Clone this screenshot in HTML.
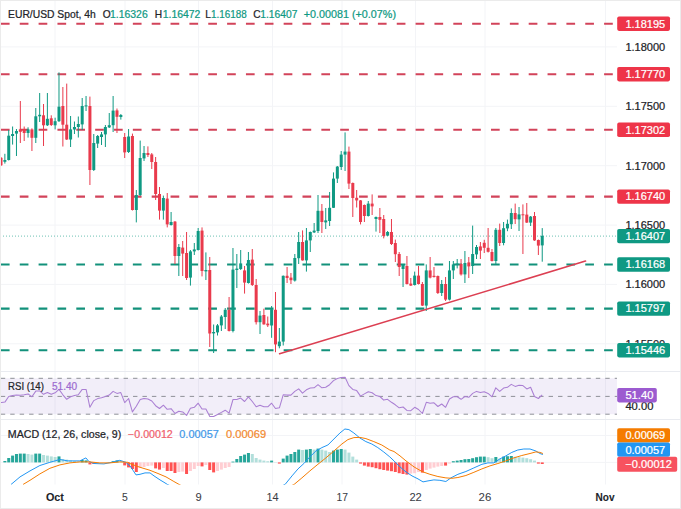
<!DOCTYPE html><html><head><meta charset="utf-8"><style>html,body{margin:0;padding:0;background:#fff}svg{display:block}</style></head><body><svg width="681" height="509" viewBox="0 0 681 509" font-family="'Liberation Sans', sans-serif">
<rect width="681" height="509" fill="#ffffff"/>
<line x1="55" y1="0" x2="55" y2="484.5" stroke="#f3f4f7" stroke-width="1"/>
<line x1="125" y1="0" x2="125" y2="484.5" stroke="#f3f4f7" stroke-width="1"/>
<line x1="198.5" y1="0" x2="198.5" y2="484.5" stroke="#f3f4f7" stroke-width="1"/>
<line x1="272.5" y1="0" x2="272.5" y2="484.5" stroke="#f3f4f7" stroke-width="1"/>
<line x1="342" y1="0" x2="342" y2="484.5" stroke="#f3f4f7" stroke-width="1"/>
<line x1="415.5" y1="0" x2="415.5" y2="484.5" stroke="#f3f4f7" stroke-width="1"/>
<line x1="485" y1="0" x2="485" y2="484.5" stroke="#f3f4f7" stroke-width="1"/>
<line x1="605.5" y1="0" x2="605.5" y2="484.5" stroke="#f3f4f7" stroke-width="1"/>
<line x1="0" y1="46.9" x2="617" y2="46.9" stroke="#f3f4f7" stroke-width="1"/>
<line x1="0" y1="106.3" x2="617" y2="106.3" stroke="#f3f4f7" stroke-width="1"/>
<line x1="0" y1="165.7" x2="617" y2="165.7" stroke="#f3f4f7" stroke-width="1"/>
<line x1="0" y1="225.1" x2="617" y2="225.1" stroke="#f3f4f7" stroke-width="1"/>
<line x1="0" y1="284.4" x2="617" y2="284.4" stroke="#f3f4f7" stroke-width="1"/>
<line x1="0" y1="343.8" x2="617" y2="343.8" stroke="#f3f4f7" stroke-width="1"/>
<line x1="0" y1="435.5" x2="617" y2="435.5" stroke="#f3f4f7" stroke-width="1"/>
<line x1="0" y1="462.4" x2="617" y2="462.4" stroke="#f3f4f7" stroke-width="1"/>
<line x1="0" y1="371.5" x2="681" y2="371.5" stroke="#e9ebf0" stroke-width="1"/>
<line x1="0" y1="419.5" x2="681" y2="419.5" stroke="#e9ebf0" stroke-width="1"/>
<rect x="0" y="378.3" width="617" height="35.9" fill="#7e57c2" fill-opacity="0.1"/>
<line x1="0" y1="378.3" x2="617" y2="378.3" stroke="#8e9097" stroke-width="1" stroke-dasharray="4.4 5.045" stroke-dashoffset="-0.8"/>
<line x1="0" y1="396.4" x2="617" y2="396.4" stroke="#8e9097" stroke-width="1" stroke-dasharray="4.4 5.045" stroke-dashoffset="-0.8"/>
<line x1="0" y1="414.2" x2="617" y2="414.2" stroke="#8e9097" stroke-width="1" stroke-dasharray="4.4 5.045" stroke-dashoffset="-0.8"/>
<line x1="0" y1="23.7" x2="617" y2="23.7" stroke="#d2435a" stroke-width="2.1" stroke-dasharray="8.7 10.15" stroke-dashoffset="-0.9"/>
<line x1="0" y1="74.2" x2="617" y2="74.2" stroke="#d2435a" stroke-width="2.1" stroke-dasharray="8.7 10.15" stroke-dashoffset="-0.9"/>
<line x1="0" y1="129.8" x2="617" y2="129.8" stroke="#d2435a" stroke-width="2.1" stroke-dasharray="8.7 10.15" stroke-dashoffset="-0.9"/>
<line x1="0" y1="196.6" x2="617" y2="196.6" stroke="#d2435a" stroke-width="2.1" stroke-dasharray="8.7 10.15" stroke-dashoffset="-0.9"/>
<line x1="0" y1="264.5" x2="617" y2="264.5" stroke="#12917b" stroke-width="2.1" stroke-dasharray="8.7 10.15" stroke-dashoffset="-0.9"/>
<line x1="0" y1="308.6" x2="617" y2="308.6" stroke="#12917b" stroke-width="2.1" stroke-dasharray="8.7 10.15" stroke-dashoffset="-0.9"/>
<line x1="0" y1="350.2" x2="617" y2="350.2" stroke="#12917b" stroke-width="2.1" stroke-dasharray="8.7 10.15" stroke-dashoffset="-0.9"/>
<line x1="0" y1="236.1" x2="617" y2="236.1" stroke="#0f9983" stroke-width="1" stroke-dasharray="1 2" opacity="0.6"/>
<line x1="1.00" y1="157.0" x2="1.00" y2="166.0" stroke="#e93a4c" stroke-width="1"/>
<rect x="-0.50" y="157.8" width="3" height="7.5" fill="#e93a4c"/>
<line x1="4.87" y1="153.8" x2="4.87" y2="163.6" stroke="#0f9983" stroke-width="1"/>
<rect x="3.37" y="160.0" width="3" height="1.8" fill="#0f9983"/>
<line x1="8.73" y1="130.0" x2="8.73" y2="160.5" stroke="#0f9983" stroke-width="1"/>
<rect x="7.23" y="135.7" width="3" height="24.3" fill="#0f9983"/>
<line x1="12.60" y1="126.5" x2="12.60" y2="144.6" stroke="#0f9983" stroke-width="1"/>
<rect x="11.10" y="134.0" width="3" height="2.0" fill="#0f9983"/>
<line x1="16.46" y1="129.0" x2="16.46" y2="156.0" stroke="#0f9983" stroke-width="1"/>
<rect x="14.96" y="131.0" width="3" height="2.6" fill="#0f9983"/>
<line x1="20.33" y1="101.0" x2="20.33" y2="143.0" stroke="#e93a4c" stroke-width="1"/>
<rect x="18.83" y="129.4" width="3" height="2.4" fill="#e93a4c"/>
<line x1="24.20" y1="126.5" x2="24.20" y2="141.0" stroke="#e93a4c" stroke-width="1"/>
<rect x="22.70" y="129.0" width="3" height="4.0" fill="#e93a4c"/>
<line x1="28.06" y1="127.3" x2="28.06" y2="137.6" stroke="#0f9983" stroke-width="1"/>
<rect x="26.56" y="129.4" width="3" height="3.6" fill="#0f9983"/>
<line x1="31.93" y1="128.3" x2="31.93" y2="151.0" stroke="#e93a4c" stroke-width="1"/>
<rect x="30.43" y="129.4" width="3" height="8.4" fill="#e93a4c"/>
<line x1="35.79" y1="108.0" x2="35.79" y2="143.0" stroke="#0f9983" stroke-width="1"/>
<rect x="34.29" y="116.3" width="3" height="21.5" fill="#0f9983"/>
<line x1="39.66" y1="93.0" x2="39.66" y2="122.0" stroke="#0f9983" stroke-width="1"/>
<rect x="38.16" y="114.8" width="3" height="1.5" fill="#0f9983"/>
<line x1="43.53" y1="104.0" x2="43.53" y2="146.0" stroke="#e93a4c" stroke-width="1"/>
<rect x="42.03" y="115.3" width="3" height="10.0" fill="#e93a4c"/>
<line x1="47.39" y1="93.0" x2="47.39" y2="126.0" stroke="#0f9983" stroke-width="1"/>
<rect x="45.89" y="118.8" width="3" height="6.5" fill="#0f9983"/>
<line x1="51.26" y1="115.3" x2="51.26" y2="126.0" stroke="#e93a4c" stroke-width="1"/>
<rect x="49.76" y="118.3" width="3" height="6.7" fill="#e93a4c"/>
<line x1="55.12" y1="117.7" x2="55.12" y2="129.4" stroke="#0f9983" stroke-width="1"/>
<rect x="53.62" y="121.2" width="3" height="4.1" fill="#0f9983"/>
<line x1="58.99" y1="72.4" x2="58.99" y2="122.0" stroke="#0f9983" stroke-width="1"/>
<rect x="57.49" y="106.7" width="3" height="14.5" fill="#0f9983"/>
<line x1="62.86" y1="87.0" x2="62.86" y2="146.5" stroke="#e93a4c" stroke-width="1"/>
<rect x="61.36" y="106.0" width="3" height="18.7" fill="#e93a4c"/>
<line x1="66.72" y1="83.6" x2="66.72" y2="140.0" stroke="#e93a4c" stroke-width="1"/>
<rect x="65.22" y="124.7" width="3" height="14.8" fill="#e93a4c"/>
<line x1="70.59" y1="116.0" x2="70.59" y2="147.0" stroke="#0f9983" stroke-width="1"/>
<rect x="69.09" y="129.4" width="3" height="10.1" fill="#0f9983"/>
<line x1="74.45" y1="121.5" x2="74.45" y2="134.0" stroke="#0f9983" stroke-width="1"/>
<rect x="72.95" y="127.0" width="3" height="2.5" fill="#0f9983"/>
<line x1="78.32" y1="116.5" x2="78.32" y2="137.5" stroke="#0f9983" stroke-width="1"/>
<rect x="76.82" y="124.0" width="3" height="3.0" fill="#0f9983"/>
<line x1="82.19" y1="98.0" x2="82.19" y2="130.0" stroke="#0f9983" stroke-width="1"/>
<rect x="80.69" y="106.0" width="3" height="18.4" fill="#0f9983"/>
<line x1="86.05" y1="96.0" x2="86.05" y2="111.0" stroke="#0f9983" stroke-width="1"/>
<rect x="84.55" y="105.4" width="3" height="1.0" fill="#0f9983"/>
<line x1="89.92" y1="96.6" x2="89.92" y2="185.0" stroke="#e93a4c" stroke-width="1"/>
<rect x="88.42" y="106.0" width="3" height="64.0" fill="#e93a4c"/>
<line x1="93.78" y1="134.0" x2="93.78" y2="171.0" stroke="#0f9983" stroke-width="1"/>
<rect x="92.28" y="143.0" width="3" height="27.0" fill="#0f9983"/>
<line x1="97.65" y1="135.0" x2="97.65" y2="148.0" stroke="#0f9983" stroke-width="1"/>
<rect x="96.15" y="136.0" width="3" height="7.6" fill="#0f9983"/>
<line x1="101.52" y1="132.0" x2="101.52" y2="145.0" stroke="#0f9983" stroke-width="1"/>
<rect x="100.02" y="134.4" width="3" height="2.6" fill="#0f9983"/>
<line x1="105.38" y1="125.0" x2="105.38" y2="147.0" stroke="#0f9983" stroke-width="1"/>
<rect x="103.88" y="127.0" width="3" height="7.4" fill="#0f9983"/>
<line x1="109.25" y1="113.0" x2="109.25" y2="128.0" stroke="#0f9983" stroke-width="1"/>
<rect x="107.75" y="125.2" width="3" height="2.2" fill="#0f9983"/>
<line x1="113.11" y1="96.0" x2="113.11" y2="132.0" stroke="#0f9983" stroke-width="1"/>
<rect x="111.61" y="110.6" width="3" height="14.6" fill="#0f9983"/>
<line x1="116.98" y1="108.5" x2="116.98" y2="133.0" stroke="#e93a4c" stroke-width="1"/>
<rect x="115.48" y="110.4" width="3" height="6.4" fill="#e93a4c"/>
<line x1="120.85" y1="114.0" x2="120.85" y2="119.6" stroke="#0f9983" stroke-width="1"/>
<rect x="119.35" y="115.0" width="3" height="2.0" fill="#0f9983"/>
<line x1="124.71" y1="133.0" x2="124.71" y2="158.0" stroke="#e93a4c" stroke-width="1"/>
<rect x="123.21" y="137.0" width="3" height="15.4" fill="#e93a4c"/>
<line x1="128.58" y1="129.0" x2="128.58" y2="153.0" stroke="#0f9983" stroke-width="1"/>
<rect x="127.08" y="136.5" width="3" height="15.5" fill="#0f9983"/>
<line x1="132.44" y1="133.6" x2="132.44" y2="210.5" stroke="#e93a4c" stroke-width="1"/>
<rect x="130.94" y="136.0" width="3" height="74.0" fill="#e93a4c"/>
<line x1="136.31" y1="190.0" x2="136.31" y2="222.4" stroke="#0f9983" stroke-width="1"/>
<rect x="134.81" y="195.0" width="3" height="15.0" fill="#0f9983"/>
<line x1="140.18" y1="140.6" x2="140.18" y2="196.0" stroke="#0f9983" stroke-width="1"/>
<rect x="138.68" y="158.0" width="3" height="37.0" fill="#0f9983"/>
<line x1="144.04" y1="146.0" x2="144.04" y2="161.0" stroke="#0f9983" stroke-width="1"/>
<rect x="142.54" y="153.0" width="3" height="5.4" fill="#0f9983"/>
<line x1="147.91" y1="146.4" x2="147.91" y2="157.0" stroke="#e93a4c" stroke-width="1"/>
<rect x="146.41" y="153.0" width="3" height="2.0" fill="#e93a4c"/>
<line x1="151.77" y1="153.0" x2="151.77" y2="169.0" stroke="#e93a4c" stroke-width="1"/>
<rect x="150.27" y="154.4" width="3" height="7.6" fill="#e93a4c"/>
<line x1="155.64" y1="157.0" x2="155.64" y2="200.0" stroke="#e93a4c" stroke-width="1"/>
<rect x="154.14" y="162.0" width="3" height="32.0" fill="#e93a4c"/>
<line x1="159.51" y1="187.0" x2="159.51" y2="219.6" stroke="#e93a4c" stroke-width="1"/>
<rect x="158.01" y="194.0" width="3" height="16.6" fill="#e93a4c"/>
<line x1="163.37" y1="195.6" x2="163.37" y2="219.6" stroke="#0f9983" stroke-width="1"/>
<rect x="161.87" y="198.0" width="3" height="12.6" fill="#0f9983"/>
<line x1="167.24" y1="193.0" x2="167.24" y2="227.4" stroke="#e93a4c" stroke-width="1"/>
<rect x="165.74" y="198.6" width="3" height="25.8" fill="#e93a4c"/>
<line x1="171.10" y1="212.0" x2="171.10" y2="225.6" stroke="#0f9983" stroke-width="1"/>
<rect x="169.60" y="222.0" width="3" height="3.0" fill="#0f9983"/>
<line x1="174.97" y1="221.0" x2="174.97" y2="264.0" stroke="#e93a4c" stroke-width="1"/>
<rect x="173.47" y="221.6" width="3" height="34.4" fill="#e93a4c"/>
<line x1="178.84" y1="244.0" x2="178.84" y2="276.0" stroke="#0f9983" stroke-width="1"/>
<rect x="177.34" y="247.0" width="3" height="9.0" fill="#0f9983"/>
<line x1="182.70" y1="241.0" x2="182.70" y2="276.0" stroke="#e93a4c" stroke-width="1"/>
<rect x="181.20" y="247.6" width="3" height="6.0" fill="#e93a4c"/>
<line x1="186.57" y1="232.0" x2="186.57" y2="280.0" stroke="#e93a4c" stroke-width="1"/>
<rect x="185.07" y="253.0" width="3" height="25.0" fill="#e93a4c"/>
<line x1="190.43" y1="250.0" x2="190.43" y2="285.6" stroke="#0f9983" stroke-width="1"/>
<rect x="188.93" y="251.4" width="3" height="26.2" fill="#0f9983"/>
<line x1="194.30" y1="243.0" x2="194.30" y2="255.0" stroke="#0f9983" stroke-width="1"/>
<rect x="192.80" y="249.4" width="3" height="2.0" fill="#0f9983"/>
<line x1="198.17" y1="228.0" x2="198.17" y2="250.5" stroke="#0f9983" stroke-width="1"/>
<rect x="196.67" y="231.0" width="3" height="19.0" fill="#0f9983"/>
<line x1="202.03" y1="227.4" x2="202.03" y2="276.4" stroke="#e93a4c" stroke-width="1"/>
<rect x="200.53" y="230.6" width="3" height="40.4" fill="#e93a4c"/>
<line x1="205.90" y1="252.4" x2="205.90" y2="280.0" stroke="#0f9983" stroke-width="1"/>
<rect x="204.40" y="270.0" width="3" height="1.4" fill="#0f9983"/>
<line x1="209.76" y1="257.0" x2="209.76" y2="347.0" stroke="#e93a4c" stroke-width="1"/>
<rect x="208.26" y="270.0" width="3" height="63.5" fill="#e93a4c"/>
<line x1="213.63" y1="324.5" x2="213.63" y2="353.0" stroke="#0f9983" stroke-width="1"/>
<rect x="212.13" y="332.0" width="3" height="1.4" fill="#0f9983"/>
<line x1="217.50" y1="324.0" x2="217.50" y2="335.5" stroke="#0f9983" stroke-width="1"/>
<rect x="216.00" y="325.4" width="3" height="7.0" fill="#0f9983"/>
<line x1="221.36" y1="315.0" x2="221.36" y2="331.0" stroke="#0f9983" stroke-width="1"/>
<rect x="219.86" y="316.5" width="3" height="8.9" fill="#0f9983"/>
<line x1="225.23" y1="308.0" x2="225.23" y2="329.0" stroke="#0f9983" stroke-width="1"/>
<rect x="223.73" y="309.8" width="3" height="7.2" fill="#0f9983"/>
<line x1="229.09" y1="297.0" x2="229.09" y2="331.5" stroke="#e93a4c" stroke-width="1"/>
<rect x="227.59" y="310.0" width="3" height="21.0" fill="#e93a4c"/>
<line x1="232.96" y1="248.0" x2="232.96" y2="332.4" stroke="#0f9983" stroke-width="1"/>
<rect x="231.46" y="269.6" width="3" height="61.4" fill="#0f9983"/>
<line x1="236.83" y1="254.0" x2="236.83" y2="288.0" stroke="#0f9983" stroke-width="1"/>
<rect x="235.33" y="268.6" width="3" height="1.4" fill="#0f9983"/>
<line x1="240.69" y1="250.0" x2="240.69" y2="270.0" stroke="#0f9983" stroke-width="1"/>
<rect x="239.19" y="263.4" width="3" height="5.6" fill="#0f9983"/>
<line x1="244.56" y1="266.0" x2="244.56" y2="293.6" stroke="#e93a4c" stroke-width="1"/>
<rect x="243.06" y="270.4" width="3" height="12.2" fill="#e93a4c"/>
<line x1="248.42" y1="252.0" x2="248.42" y2="283.6" stroke="#0f9983" stroke-width="1"/>
<rect x="246.92" y="260.0" width="3" height="23.0" fill="#0f9983"/>
<line x1="252.29" y1="249.0" x2="252.29" y2="286.0" stroke="#e93a4c" stroke-width="1"/>
<rect x="250.79" y="259.6" width="3" height="25.4" fill="#e93a4c"/>
<line x1="256.16" y1="279.0" x2="256.16" y2="324.5" stroke="#e93a4c" stroke-width="1"/>
<rect x="254.66" y="285.0" width="3" height="37.2" fill="#e93a4c"/>
<line x1="260.02" y1="311.0" x2="260.02" y2="334.0" stroke="#0f9983" stroke-width="1"/>
<rect x="258.52" y="315.6" width="3" height="6.6" fill="#0f9983"/>
<line x1="263.89" y1="308.7" x2="263.89" y2="324.6" stroke="#e93a4c" stroke-width="1"/>
<rect x="262.39" y="315.0" width="3" height="9.4" fill="#e93a4c"/>
<line x1="267.75" y1="316.5" x2="267.75" y2="327.0" stroke="#e93a4c" stroke-width="1"/>
<rect x="266.25" y="323.6" width="3" height="1.7" fill="#e93a4c"/>
<line x1="271.62" y1="306.0" x2="271.62" y2="337.8" stroke="#0f9983" stroke-width="1"/>
<rect x="270.12" y="309.3" width="3" height="16.2" fill="#0f9983"/>
<line x1="275.49" y1="292.0" x2="275.49" y2="352.2" stroke="#e93a4c" stroke-width="1"/>
<rect x="273.99" y="309.8" width="3" height="34.6" fill="#e93a4c"/>
<line x1="279.35" y1="328.0" x2="279.35" y2="348.3" stroke="#0f9983" stroke-width="1"/>
<rect x="277.85" y="341.6" width="3" height="4.6" fill="#0f9983"/>
<line x1="283.22" y1="275.5" x2="283.22" y2="345.5" stroke="#0f9983" stroke-width="1"/>
<rect x="281.72" y="275.8" width="3" height="65.8" fill="#0f9983"/>
<line x1="287.08" y1="267.0" x2="287.08" y2="283.0" stroke="#e93a4c" stroke-width="1"/>
<rect x="285.58" y="275.8" width="3" height="2.2" fill="#e93a4c"/>
<line x1="290.95" y1="273.0" x2="290.95" y2="284.0" stroke="#e93a4c" stroke-width="1"/>
<rect x="289.45" y="277.6" width="3" height="2.6" fill="#e93a4c"/>
<line x1="294.82" y1="254.0" x2="294.82" y2="281.6" stroke="#0f9983" stroke-width="1"/>
<rect x="293.32" y="258.0" width="3" height="22.6" fill="#0f9983"/>
<line x1="298.68" y1="232.0" x2="298.68" y2="264.0" stroke="#0f9983" stroke-width="1"/>
<rect x="297.18" y="242.0" width="3" height="16.2" fill="#0f9983"/>
<line x1="302.55" y1="230.4" x2="302.55" y2="260.6" stroke="#e93a4c" stroke-width="1"/>
<rect x="301.05" y="242.0" width="3" height="18.4" fill="#e93a4c"/>
<line x1="306.41" y1="228.0" x2="306.41" y2="271.6" stroke="#0f9983" stroke-width="1"/>
<rect x="304.91" y="240.4" width="3" height="20.0" fill="#0f9983"/>
<line x1="310.28" y1="231.5" x2="310.28" y2="252.0" stroke="#0f9983" stroke-width="1"/>
<rect x="308.78" y="232.0" width="3" height="8.4" fill="#0f9983"/>
<line x1="314.15" y1="223.0" x2="314.15" y2="233.0" stroke="#0f9983" stroke-width="1"/>
<rect x="312.65" y="230.6" width="3" height="1.8" fill="#0f9983"/>
<line x1="318.01" y1="195.0" x2="318.01" y2="233.0" stroke="#0f9983" stroke-width="1"/>
<rect x="316.51" y="210.8" width="3" height="20.2" fill="#0f9983"/>
<line x1="321.88" y1="204.0" x2="321.88" y2="233.0" stroke="#e93a4c" stroke-width="1"/>
<rect x="320.38" y="210.8" width="3" height="11.2" fill="#e93a4c"/>
<line x1="325.74" y1="208.0" x2="325.74" y2="229.0" stroke="#0f9983" stroke-width="1"/>
<rect x="324.24" y="220.4" width="3" height="2.0" fill="#0f9983"/>
<line x1="329.61" y1="192.0" x2="329.61" y2="226.0" stroke="#0f9983" stroke-width="1"/>
<rect x="328.11" y="207.8" width="3" height="13.2" fill="#0f9983"/>
<line x1="333.48" y1="172.4" x2="333.48" y2="208.0" stroke="#0f9983" stroke-width="1"/>
<rect x="331.98" y="178.6" width="3" height="29.2" fill="#0f9983"/>
<line x1="337.34" y1="166.0" x2="337.34" y2="183.0" stroke="#0f9983" stroke-width="1"/>
<rect x="335.84" y="166.6" width="3" height="12.0" fill="#0f9983"/>
<line x1="341.21" y1="151.0" x2="341.21" y2="170.0" stroke="#0f9983" stroke-width="1"/>
<rect x="339.71" y="154.6" width="3" height="12.4" fill="#0f9983"/>
<line x1="345.07" y1="132.4" x2="345.07" y2="171.0" stroke="#0f9983" stroke-width="1"/>
<rect x="343.57" y="151.6" width="3" height="3.0" fill="#0f9983"/>
<line x1="348.94" y1="146.6" x2="348.94" y2="189.0" stroke="#e93a4c" stroke-width="1"/>
<rect x="347.44" y="151.6" width="3" height="32.0" fill="#e93a4c"/>
<line x1="352.81" y1="182.5" x2="352.81" y2="217.0" stroke="#e93a4c" stroke-width="1"/>
<rect x="351.31" y="183.0" width="3" height="15.0" fill="#e93a4c"/>
<line x1="356.67" y1="190.0" x2="356.67" y2="207.5" stroke="#e93a4c" stroke-width="1"/>
<rect x="355.17" y="197.8" width="3" height="2.6" fill="#e93a4c"/>
<line x1="360.54" y1="200.0" x2="360.54" y2="224.4" stroke="#e93a4c" stroke-width="1"/>
<rect x="359.04" y="200.4" width="3" height="21.6" fill="#e93a4c"/>
<line x1="364.40" y1="204.5" x2="364.40" y2="222.0" stroke="#e93a4c" stroke-width="1"/>
<rect x="362.90" y="205.0" width="3" height="11.0" fill="#e93a4c"/>
<line x1="368.27" y1="201.0" x2="368.27" y2="216.5" stroke="#0f9983" stroke-width="1"/>
<rect x="366.77" y="203.6" width="3" height="12.4" fill="#0f9983"/>
<line x1="372.14" y1="194.4" x2="372.14" y2="215.0" stroke="#e93a4c" stroke-width="1"/>
<rect x="370.64" y="203.6" width="3" height="2.8" fill="#e93a4c"/>
<line x1="376.00" y1="216.5" x2="376.00" y2="231.6" stroke="#0f9983" stroke-width="1"/>
<rect x="374.50" y="217.0" width="3" height="2.0" fill="#0f9983"/>
<line x1="379.87" y1="208.0" x2="379.87" y2="233.0" stroke="#e93a4c" stroke-width="1"/>
<rect x="378.37" y="217.0" width="3" height="2.8" fill="#e93a4c"/>
<line x1="383.73" y1="215.0" x2="383.73" y2="238.4" stroke="#e93a4c" stroke-width="1"/>
<rect x="382.23" y="219.0" width="3" height="17.0" fill="#e93a4c"/>
<line x1="387.60" y1="231.0" x2="387.60" y2="236.0" stroke="#0f9983" stroke-width="1"/>
<rect x="386.10" y="232.0" width="3" height="3.6" fill="#0f9983"/>
<line x1="391.47" y1="219.0" x2="391.47" y2="245.0" stroke="#e93a4c" stroke-width="1"/>
<rect x="389.97" y="232.0" width="3" height="12.0" fill="#e93a4c"/>
<line x1="395.33" y1="239.6" x2="395.33" y2="262.0" stroke="#e93a4c" stroke-width="1"/>
<rect x="393.83" y="243.0" width="3" height="11.2" fill="#e93a4c"/>
<line x1="399.20" y1="252.0" x2="399.20" y2="276.0" stroke="#e93a4c" stroke-width="1"/>
<rect x="397.70" y="254.0" width="3" height="13.0" fill="#e93a4c"/>
<line x1="403.06" y1="264.0" x2="403.06" y2="287.0" stroke="#0f9983" stroke-width="1"/>
<rect x="401.56" y="264.5" width="3" height="4.5" fill="#0f9983"/>
<line x1="406.93" y1="256.0" x2="406.93" y2="284.5" stroke="#e93a4c" stroke-width="1"/>
<rect x="405.43" y="266.0" width="3" height="18.0" fill="#e93a4c"/>
<line x1="410.80" y1="278.0" x2="410.80" y2="286.0" stroke="#e93a4c" stroke-width="1"/>
<rect x="409.30" y="283.6" width="3" height="2.0" fill="#e93a4c"/>
<line x1="414.66" y1="271.6" x2="414.66" y2="285.5" stroke="#0f9983" stroke-width="1"/>
<rect x="413.16" y="275.6" width="3" height="9.4" fill="#0f9983"/>
<line x1="418.53" y1="266.0" x2="418.53" y2="284.5" stroke="#e93a4c" stroke-width="1"/>
<rect x="417.03" y="275.6" width="3" height="8.4" fill="#e93a4c"/>
<line x1="422.39" y1="282.0" x2="422.39" y2="306.0" stroke="#e93a4c" stroke-width="1"/>
<rect x="420.89" y="284.0" width="3" height="21.6" fill="#e93a4c"/>
<line x1="426.26" y1="264.4" x2="426.26" y2="311.0" stroke="#0f9983" stroke-width="1"/>
<rect x="424.76" y="270.4" width="3" height="35.2" fill="#0f9983"/>
<line x1="430.13" y1="257.0" x2="430.13" y2="278.4" stroke="#e93a4c" stroke-width="1"/>
<rect x="428.63" y="270.4" width="3" height="7.2" fill="#e93a4c"/>
<line x1="433.99" y1="267.0" x2="433.99" y2="277.6" stroke="#e93a4c" stroke-width="1"/>
<rect x="432.49" y="275.8" width="3" height="1.2" fill="#e93a4c"/>
<line x1="437.86" y1="275.5" x2="437.86" y2="294.0" stroke="#e93a4c" stroke-width="1"/>
<rect x="436.36" y="276.0" width="3" height="17.0" fill="#e93a4c"/>
<line x1="441.72" y1="280.0" x2="441.72" y2="296.0" stroke="#0f9983" stroke-width="1"/>
<rect x="440.22" y="284.0" width="3" height="9.0" fill="#0f9983"/>
<line x1="445.59" y1="277.0" x2="445.59" y2="301.0" stroke="#e93a4c" stroke-width="1"/>
<rect x="444.09" y="284.0" width="3" height="15.6" fill="#e93a4c"/>
<line x1="449.46" y1="261.0" x2="449.46" y2="300.4" stroke="#0f9983" stroke-width="1"/>
<rect x="447.96" y="270.4" width="3" height="29.2" fill="#0f9983"/>
<line x1="453.32" y1="261.0" x2="453.32" y2="279.0" stroke="#0f9983" stroke-width="1"/>
<rect x="451.82" y="264.4" width="3" height="6.0" fill="#0f9983"/>
<line x1="457.19" y1="259.0" x2="457.19" y2="268.4" stroke="#0f9983" stroke-width="1"/>
<rect x="455.69" y="263.6" width="3" height="1.4" fill="#0f9983"/>
<line x1="461.05" y1="259.0" x2="461.05" y2="275.6" stroke="#e93a4c" stroke-width="1"/>
<rect x="459.55" y="264.0" width="3" height="10.4" fill="#e93a4c"/>
<line x1="464.92" y1="251.0" x2="464.92" y2="283.0" stroke="#0f9983" stroke-width="1"/>
<rect x="463.42" y="263.0" width="3" height="11.4" fill="#0f9983"/>
<line x1="468.79" y1="257.0" x2="468.79" y2="278.0" stroke="#e93a4c" stroke-width="1"/>
<rect x="467.29" y="262.4" width="3" height="4.0" fill="#e93a4c"/>
<line x1="472.65" y1="225.6" x2="472.65" y2="274.0" stroke="#0f9983" stroke-width="1"/>
<rect x="471.15" y="254.0" width="3" height="12.0" fill="#0f9983"/>
<line x1="476.52" y1="245.0" x2="476.52" y2="259.0" stroke="#0f9983" stroke-width="1"/>
<rect x="475.02" y="247.0" width="3" height="7.4" fill="#0f9983"/>
<line x1="480.38" y1="242.0" x2="480.38" y2="259.0" stroke="#e93a4c" stroke-width="1"/>
<rect x="478.88" y="246.4" width="3" height="4.2" fill="#e93a4c"/>
<line x1="484.25" y1="239.8" x2="484.25" y2="253.0" stroke="#e93a4c" stroke-width="1"/>
<rect x="482.75" y="242.8" width="3" height="5.0" fill="#e93a4c"/>
<line x1="488.12" y1="228.0" x2="488.12" y2="252.5" stroke="#e93a4c" stroke-width="1"/>
<rect x="486.62" y="247.8" width="3" height="4.0" fill="#e93a4c"/>
<line x1="491.98" y1="249.0" x2="491.98" y2="261.5" stroke="#e93a4c" stroke-width="1"/>
<rect x="490.48" y="252.0" width="3" height="9.0" fill="#e93a4c"/>
<line x1="495.85" y1="228.0" x2="495.85" y2="264.0" stroke="#0f9983" stroke-width="1"/>
<rect x="494.35" y="229.8" width="3" height="31.2" fill="#0f9983"/>
<line x1="499.71" y1="223.6" x2="499.71" y2="246.0" stroke="#e93a4c" stroke-width="1"/>
<rect x="498.21" y="229.8" width="3" height="13.2" fill="#e93a4c"/>
<line x1="503.58" y1="222.0" x2="503.58" y2="245.3" stroke="#0f9983" stroke-width="1"/>
<rect x="502.08" y="228.2" width="3" height="14.8" fill="#0f9983"/>
<line x1="507.45" y1="219.6" x2="507.45" y2="231.2" stroke="#0f9983" stroke-width="1"/>
<rect x="505.95" y="223.8" width="3" height="4.6" fill="#0f9983"/>
<line x1="511.31" y1="208.4" x2="511.31" y2="229.0" stroke="#0f9983" stroke-width="1"/>
<rect x="509.81" y="213.0" width="3" height="11.2" fill="#0f9983"/>
<line x1="515.18" y1="203.6" x2="515.18" y2="224.0" stroke="#e93a4c" stroke-width="1"/>
<rect x="513.68" y="213.0" width="3" height="6.2" fill="#e93a4c"/>
<line x1="519.04" y1="207.0" x2="519.04" y2="231.0" stroke="#0f9983" stroke-width="1"/>
<rect x="517.54" y="214.4" width="3" height="5.0" fill="#0f9983"/>
<line x1="522.91" y1="204.4" x2="522.91" y2="254.0" stroke="#e93a4c" stroke-width="1"/>
<rect x="521.41" y="214.3" width="3" height="1.0" fill="#e93a4c"/>
<line x1="526.78" y1="203.0" x2="526.78" y2="223.0" stroke="#e93a4c" stroke-width="1"/>
<rect x="525.28" y="214.6" width="3" height="8.0" fill="#e93a4c"/>
<line x1="530.64" y1="216.0" x2="530.64" y2="226.0" stroke="#0f9983" stroke-width="1"/>
<rect x="529.14" y="216.6" width="3" height="6.0" fill="#0f9983"/>
<line x1="534.51" y1="212.0" x2="534.51" y2="240.8" stroke="#e93a4c" stroke-width="1"/>
<rect x="533.01" y="216.0" width="3" height="24.4" fill="#e93a4c"/>
<line x1="538.37" y1="239.5" x2="538.37" y2="255.0" stroke="#e93a4c" stroke-width="1"/>
<rect x="536.87" y="240.0" width="3" height="5.6" fill="#e93a4c"/>
<line x1="542.24" y1="228.1" x2="542.24" y2="261.7" stroke="#0f9983" stroke-width="1"/>
<rect x="540.74" y="235.8" width="3" height="9.6" fill="#0f9983"/>
<line x1="279.6" y1="353.8" x2="585.5" y2="261.1" stroke="#dc3f52" stroke-width="1.6" stroke-linecap="round"/>
<polyline fill="none" stroke="#aa7fd3" stroke-width="1.05" stroke-linejoin="round" points="0.0,402.8 4.9,402.1 8.7,396.5 12.6,395.6 16.5,395.1 20.3,395.3 24.2,394.8 28.1,393.9 31.9,396.8 35.8,391.1 39.7,390.9 43.5,394.3 47.4,392.6 51.3,394.3 55.1,392.8 59.0,389.4 62.9,394.8 66.7,399.3 70.6,396.8 74.5,395.6 78.3,394.8 82.2,389.4 86.1,389.4 89.9,407.3 93.8,400.6 97.7,398.6 101.5,397.8 105.4,396.5 109.2,395.1 113.1,391.4 117.0,393.4 120.8,392.6 124.7,402.6 128.6,398.5 132.4,411.9 136.3,406.2 140.2,399.5 144.0,398.5 147.9,399.0 151.8,401.0 155.6,405.7 159.5,408.5 163.4,405.2 167.2,409.3 171.1,408.7 175.0,413.5 178.8,411.2 182.7,411.9 186.6,415.4 190.4,408.2 194.3,407.3 198.2,403.2 202.0,409.0 205.9,409.0 209.8,416.5 213.6,416.5 217.5,414.5 221.4,412.4 225.2,410.2 229.1,413.2 233.0,399.5 236.8,399.5 240.7,398.1 244.6,401.5 248.4,396.8 252.3,401.5 256.2,406.8 260.0,405.2 263.9,406.8 267.8,406.8 271.6,403.2 275.5,408.5 279.4,407.8 283.2,394.8 287.1,395.1 290.9,395.1 294.8,391.4 298.7,388.9 302.5,393.1 306.4,389.8 310.3,388.1 314.1,387.8 318.0,384.7 321.9,387.8 325.7,387.3 329.6,384.7 333.5,380.6 337.3,378.5 341.2,377.5 345.1,377.2 348.9,385.6 352.8,389.4 356.7,390.6 360.5,396.1 364.4,393.9 368.3,391.8 372.1,392.8 376.0,395.6 379.9,396.5 383.7,400.1 387.6,399.3 391.5,402.3 395.3,404.8 399.2,407.8 403.1,407.0 406.9,410.4 410.8,410.7 414.7,407.3 418.5,409.5 422.4,413.5 426.3,402.3 430.1,403.2 434.0,402.8 437.9,406.5 441.7,404.0 445.6,407.3 449.5,399.0 453.3,396.8 457.2,396.8 461.1,399.3 464.9,396.5 468.8,397.3 472.7,393.4 476.5,391.4 480.4,392.6 484.2,391.8 488.1,393.4 492.0,396.8 495.8,387.8 499.7,391.4 503.6,388.1 507.4,387.3 511.3,384.4 515.2,386.4 519.0,385.2 522.9,385.6 526.8,388.9 530.6,387.3 534.5,396.5 538.4,398.5 542.2,394.8"/>
<rect x="3.37" y="461.0" width="3" height="1.4" fill="#26a69a"/>
<rect x="7.23" y="458.0" width="3" height="4.4" fill="#26a69a"/>
<rect x="11.10" y="455.6" width="3" height="6.8" fill="#26a69a"/>
<rect x="14.96" y="454.0" width="3" height="8.4" fill="#26a69a"/>
<rect x="18.83" y="453.6" width="3" height="8.8" fill="#26a69a"/>
<rect x="22.70" y="453.6" width="3" height="8.8" fill="#26a69a"/>
<rect x="26.56" y="454.0" width="3" height="8.4" fill="#b2dfdb"/>
<rect x="30.43" y="454.6" width="3" height="7.8" fill="#b2dfdb"/>
<rect x="34.29" y="453.6" width="3" height="8.8" fill="#26a69a"/>
<rect x="38.16" y="453.6" width="3" height="8.8" fill="#26a69a"/>
<rect x="42.03" y="455.0" width="3" height="7.4" fill="#b2dfdb"/>
<rect x="45.89" y="455.6" width="3" height="6.8" fill="#b2dfdb"/>
<rect x="49.76" y="456.4" width="3" height="6.0" fill="#b2dfdb"/>
<rect x="53.62" y="457.0" width="3" height="5.4" fill="#b2dfdb"/>
<rect x="57.49" y="456.4" width="3" height="6.0" fill="#26a69a"/>
<rect x="61.36" y="459.0" width="3" height="3.4" fill="#b2dfdb"/>
<rect x="65.22" y="459.6" width="3" height="2.8" fill="#b2dfdb"/>
<rect x="69.09" y="460.4" width="3" height="2.0" fill="#b2dfdb"/>
<rect x="72.95" y="461.0" width="3" height="1.4" fill="#b2dfdb"/>
<rect x="76.82" y="461.6" width="3" height="0.8" fill="#b2dfdb"/>
<rect x="80.69" y="460.0" width="3" height="2.4" fill="#26a69a"/>
<rect x="84.55" y="460.4" width="3" height="2.0" fill="#26a69a"/>
<rect x="88.42" y="462.4" width="3" height="2.0" fill="#ff5252"/>
<rect x="92.28" y="462.4" width="3" height="1.6" fill="#ff5252"/>
<rect x="96.15" y="462.4" width="3" height="0.6" fill="#ffcdd2"/>
<rect x="107.75" y="462.0" width="3" height="0.4" fill="#b2dfdb"/>
<rect x="111.61" y="461.2" width="3" height="1.2" fill="#26a69a"/>
<rect x="115.48" y="460.4" width="3" height="2.0" fill="#26a69a"/>
<rect x="119.35" y="460.8" width="3" height="1.6" fill="#b2dfdb"/>
<rect x="123.21" y="462.4" width="3" height="3.0" fill="#ff5252"/>
<rect x="127.08" y="462.4" width="3" height="5.0" fill="#ff5252"/>
<rect x="130.94" y="462.4" width="3" height="6.6" fill="#ff5252"/>
<rect x="134.81" y="462.4" width="3" height="9.6" fill="#ff5252"/>
<rect x="138.68" y="462.4" width="3" height="5.6" fill="#ffcdd2"/>
<rect x="142.54" y="462.4" width="3" height="4.6" fill="#ffcdd2"/>
<rect x="146.41" y="462.4" width="3" height="3.6" fill="#ffcdd2"/>
<rect x="150.27" y="462.4" width="3" height="3.2" fill="#ffcdd2"/>
<rect x="154.14" y="462.4" width="3" height="6.0" fill="#ff5252"/>
<rect x="158.01" y="462.4" width="3" height="7.2" fill="#ff5252"/>
<rect x="161.87" y="462.4" width="3" height="5.6" fill="#ffcdd2"/>
<rect x="165.74" y="462.4" width="3" height="8.6" fill="#ff5252"/>
<rect x="169.60" y="462.4" width="3" height="8.6" fill="#ff5252"/>
<rect x="173.47" y="462.4" width="3" height="10.6" fill="#ff5252"/>
<rect x="177.34" y="462.4" width="3" height="9.6" fill="#ffcdd2"/>
<rect x="181.20" y="462.4" width="3" height="9.2" fill="#ffcdd2"/>
<rect x="185.07" y="462.4" width="3" height="11.6" fill="#ff5252"/>
<rect x="188.93" y="462.4" width="3" height="8.6" fill="#ffcdd2"/>
<rect x="192.80" y="462.4" width="3" height="6.6" fill="#ffcdd2"/>
<rect x="196.67" y="462.4" width="3" height="3.6" fill="#ffcdd2"/>
<rect x="200.53" y="462.4" width="3" height="4.0" fill="#ff5252"/>
<rect x="204.40" y="462.4" width="3" height="2.6" fill="#ffcdd2"/>
<rect x="208.26" y="462.4" width="3" height="7.6" fill="#ff5252"/>
<rect x="212.13" y="462.4" width="3" height="10.0" fill="#ff5252"/>
<rect x="216.00" y="462.4" width="3" height="8.6" fill="#ffcdd2"/>
<rect x="219.86" y="462.4" width="3" height="7.2" fill="#ffcdd2"/>
<rect x="223.73" y="462.4" width="3" height="5.6" fill="#ffcdd2"/>
<rect x="227.59" y="462.4" width="3" height="4.6" fill="#ffcdd2"/>
<rect x="231.46" y="461.6" width="3" height="0.8" fill="#26a69a"/>
<rect x="235.33" y="459.0" width="3" height="3.4" fill="#26a69a"/>
<rect x="239.19" y="456.0" width="3" height="6.4" fill="#26a69a"/>
<rect x="243.06" y="454.6" width="3" height="7.8" fill="#26a69a"/>
<rect x="246.92" y="453.0" width="3" height="9.4" fill="#26a69a"/>
<rect x="250.79" y="454.0" width="3" height="8.4" fill="#b2dfdb"/>
<rect x="254.66" y="458.0" width="3" height="4.4" fill="#b2dfdb"/>
<rect x="258.52" y="459.6" width="3" height="2.8" fill="#b2dfdb"/>
<rect x="262.39" y="460.6" width="3" height="1.8" fill="#b2dfdb"/>
<rect x="266.25" y="461.2" width="3" height="1.2" fill="#b2dfdb"/>
<rect x="270.12" y="460.6" width="3" height="1.8" fill="#26a69a"/>
<rect x="273.99" y="462.1" width="3" height="0.3" fill="#b2dfdb"/>
<rect x="277.85" y="462.4" width="3" height="1.2" fill="#ff5252"/>
<rect x="281.72" y="458.6" width="3" height="3.8" fill="#26a69a"/>
<rect x="285.58" y="455.6" width="3" height="6.8" fill="#26a69a"/>
<rect x="289.45" y="454.0" width="3" height="8.4" fill="#26a69a"/>
<rect x="293.32" y="452.0" width="3" height="10.4" fill="#26a69a"/>
<rect x="297.18" y="449.6" width="3" height="12.8" fill="#26a69a"/>
<rect x="301.05" y="450.0" width="3" height="12.4" fill="#b2dfdb"/>
<rect x="304.91" y="449.6" width="3" height="12.8" fill="#26a69a"/>
<rect x="308.78" y="449.0" width="3" height="13.4" fill="#26a69a"/>
<rect x="312.65" y="449.6" width="3" height="12.8" fill="#b2dfdb"/>
<rect x="316.51" y="448.6" width="3" height="13.8" fill="#26a69a"/>
<rect x="320.38" y="449.6" width="3" height="12.8" fill="#b2dfdb"/>
<rect x="324.24" y="450.6" width="3" height="11.8" fill="#b2dfdb"/>
<rect x="328.11" y="452.0" width="3" height="10.4" fill="#b2dfdb"/>
<rect x="331.98" y="450.6" width="3" height="11.8" fill="#26a69a"/>
<rect x="335.84" y="449.6" width="3" height="12.8" fill="#26a69a"/>
<rect x="339.71" y="449.0" width="3" height="13.4" fill="#26a69a"/>
<rect x="343.57" y="449.6" width="3" height="12.8" fill="#b2dfdb"/>
<rect x="347.44" y="452.6" width="3" height="9.8" fill="#b2dfdb"/>
<rect x="351.31" y="456.6" width="3" height="5.8" fill="#b2dfdb"/>
<rect x="355.17" y="459.6" width="3" height="2.8" fill="#b2dfdb"/>
<rect x="359.04" y="462.4" width="3" height="1.2" fill="#ff5252"/>
<rect x="362.90" y="462.4" width="3" height="3.2" fill="#ff5252"/>
<rect x="366.77" y="462.4" width="3" height="4.2" fill="#ff5252"/>
<rect x="370.64" y="462.4" width="3" height="4.8" fill="#ff5252"/>
<rect x="374.50" y="462.4" width="3" height="5.8" fill="#ff5252"/>
<rect x="378.37" y="462.4" width="3" height="6.8" fill="#ff5252"/>
<rect x="382.23" y="462.4" width="3" height="7.6" fill="#ff5252"/>
<rect x="386.10" y="462.4" width="3" height="8.2" fill="#ff5252"/>
<rect x="389.97" y="462.4" width="3" height="8.8" fill="#ff5252"/>
<rect x="393.83" y="462.4" width="3" height="9.6" fill="#ff5252"/>
<rect x="397.70" y="462.4" width="3" height="10.8" fill="#ff5252"/>
<rect x="401.56" y="462.4" width="3" height="11.6" fill="#ff5252"/>
<rect x="405.43" y="462.4" width="3" height="12.2" fill="#ff5252"/>
<rect x="409.30" y="462.4" width="3" height="11.2" fill="#ffcdd2"/>
<rect x="413.16" y="462.4" width="3" height="10.8" fill="#ffcdd2"/>
<rect x="417.03" y="462.4" width="3" height="9.6" fill="#ffcdd2"/>
<rect x="420.89" y="462.4" width="3" height="10.2" fill="#ff5252"/>
<rect x="424.76" y="462.4" width="3" height="7.6" fill="#ffcdd2"/>
<rect x="428.63" y="462.4" width="3" height="6.2" fill="#ffcdd2"/>
<rect x="432.49" y="462.4" width="3" height="5.2" fill="#ffcdd2"/>
<rect x="436.36" y="462.4" width="3" height="4.2" fill="#ffcdd2"/>
<rect x="440.22" y="462.4" width="3" height="3.6" fill="#ffcdd2"/>
<rect x="444.09" y="462.4" width="3" height="3.2" fill="#ff5252"/>
<rect x="447.96" y="462.4" width="3" height="1.2" fill="#ffcdd2"/>
<rect x="451.82" y="461.2" width="3" height="1.2" fill="#26a69a"/>
<rect x="455.69" y="460.6" width="3" height="1.8" fill="#26a69a"/>
<rect x="459.55" y="460.0" width="3" height="2.4" fill="#26a69a"/>
<rect x="463.42" y="459.2" width="3" height="3.2" fill="#26a69a"/>
<rect x="467.29" y="459.0" width="3" height="3.4" fill="#26a69a"/>
<rect x="471.15" y="458.2" width="3" height="4.2" fill="#26a69a"/>
<rect x="475.02" y="457.2" width="3" height="5.2" fill="#26a69a"/>
<rect x="478.88" y="456.6" width="3" height="5.8" fill="#26a69a"/>
<rect x="482.75" y="456.6" width="3" height="5.8" fill="#26a69a"/>
<rect x="486.62" y="457.2" width="3" height="5.2" fill="#b2dfdb"/>
<rect x="490.48" y="458.2" width="3" height="4.2" fill="#b2dfdb"/>
<rect x="494.35" y="457.0" width="3" height="5.4" fill="#26a69a"/>
<rect x="498.21" y="458.6" width="3" height="3.8" fill="#b2dfdb"/>
<rect x="502.08" y="456.6" width="3" height="5.8" fill="#26a69a"/>
<rect x="505.95" y="456.2" width="3" height="6.2" fill="#26a69a"/>
<rect x="509.81" y="456.0" width="3" height="6.4" fill="#26a69a"/>
<rect x="513.68" y="456.8" width="3" height="5.6" fill="#b2dfdb"/>
<rect x="517.54" y="457.2" width="3" height="5.2" fill="#b2dfdb"/>
<rect x="521.41" y="457.6" width="3" height="4.8" fill="#b2dfdb"/>
<rect x="525.28" y="458.2" width="3" height="4.2" fill="#b2dfdb"/>
<rect x="529.14" y="459.2" width="3" height="3.2" fill="#b2dfdb"/>
<rect x="533.01" y="460.6" width="3" height="1.8" fill="#b2dfdb"/>
<rect x="536.87" y="462.4" width="3" height="1.2" fill="#ff5252"/>
<rect x="540.74" y="462.4" width="3" height="1.6" fill="#ff5252"/>
<clipPath id="mc"><rect x="0" y="420" width="617" height="64.8"/></clipPath>
<g clip-path="url(#mc)" fill="none" stroke-width="1" stroke-linejoin="round">
<polyline stroke="#2196f3" points="11.0,484.5 20.0,476.9 30.0,470.9 39.9,465.5 49.9,462.3 59.9,459.5 67.9,460.9 79.9,460.9 85.9,457.9 88.9,461.5 93.9,463.5 103.9,463.9 111.8,462.3 119.8,460.3 125.8,462.3 130.0,465.9 133.0,470.3 136.0,474.9 140.0,474.3 145.0,472.9 150.0,472.9 154.0,475.9 160.0,479.9 164.0,482.3 167.5,484.5 190.0,495.0 260.0,495.0 285.0,484.5 292.0,475.9 298.0,468.9 303.9,463.5 309.9,456.9 315.9,451.0 321.9,447.6 327.9,445.0 333.9,439.0 339.9,433.0 344.9,429.0 348.9,429.6 353.9,433.0 359.9,438.0 365.9,441.6 371.8,444.0 377.8,447.6 383.8,452.0 389.8,456.9 394.0,460.9 400.0,466.9 406.0,471.9 412.0,475.9 418.0,478.9 423.0,481.9 428.0,480.9 433.9,479.9 439.9,480.3 445.9,481.5 450.9,477.9 457.9,474.3 465.9,471.5 473.9,467.9 481.9,464.3 487.9,462.9 493.9,462.9 499.9,458.9 505.8,455.9 511.8,452.4 517.8,450.0 523.8,449.0 530.0,449.0 535.9,451.0 539.9,453.5 542.9,454.5"/>
<polyline stroke="#f57c00" points="23.0,484.5 30.0,480.3 39.9,473.9 49.9,468.3 59.9,464.9 69.9,462.9 79.9,461.9 89.9,461.9 99.9,462.9 109.8,462.9 119.8,461.9 127.8,462.3 130.0,463.5 136.0,465.9 142.0,467.9 150.0,470.3 158.0,473.5 166.0,476.9 173.9,481.5 179.9,484.9 200.0,495.0 270.0,495.0 294.0,484.5 301.9,477.9 309.9,470.9 317.9,464.3 325.9,457.9 333.9,451.0 341.9,444.0 347.9,439.6 353.9,437.6 359.9,437.4 365.9,438.6 373.8,441.6 381.8,445.0 389.8,450.0 394.0,451.5 400.0,455.9 406.0,460.9 414.0,466.9 422.0,471.5 429.9,474.3 437.9,476.5 445.9,477.9 451.9,478.3 457.9,477.5 465.9,475.5 473.9,472.3 481.9,468.9 489.9,465.9 497.9,463.5 505.8,460.9 513.8,457.9 521.8,455.5 530.0,453.5 535.9,451.9 539.9,452.4 542.9,453.5"/>
</g>
<text x="625.4" y="50.8" font-size="10.2" fill="#222328" stroke="#222328" stroke-width="0.22" textLength="39.8" lengthAdjust="spacingAndGlyphs">1.18000</text>
<text x="625.4" y="110.1" font-size="10.2" fill="#222328" stroke="#222328" stroke-width="0.22" textLength="39.8" lengthAdjust="spacingAndGlyphs">1.17500</text>
<text x="625.4" y="169.5" font-size="10.2" fill="#222328" stroke="#222328" stroke-width="0.22" textLength="39.8" lengthAdjust="spacingAndGlyphs">1.17000</text>
<text x="625.4" y="228.9" font-size="10.2" fill="#222328" stroke="#222328" stroke-width="0.22" textLength="39.8" lengthAdjust="spacingAndGlyphs">1.16500</text>
<text x="625.4" y="288.3" font-size="10.2" fill="#222328" stroke="#222328" stroke-width="0.22" textLength="39.8" lengthAdjust="spacingAndGlyphs">1.16000</text>
<text x="625.4" y="347.7" font-size="10.2" fill="#222328" stroke="#222328" stroke-width="0.22" textLength="39.8" lengthAdjust="spacingAndGlyphs">1.15500</text>
<text x="625.4" y="409.9" font-size="10.2" fill="#222328" stroke="#222328" stroke-width="0.22" textLength="28" lengthAdjust="spacingAndGlyphs">40.00</text>
<rect x="617.2" y="16.5" width="52.8" height="14.4" rx="1.8" fill="#ee3549"/>
<text x="625.4" y="27.6" font-size="10.2" fill="#ffffff" stroke="#ffffff" stroke-width="0.22" textLength="39.8" lengthAdjust="spacingAndGlyphs">1.18195</text>
<rect x="617.2" y="67.0" width="52.8" height="14.4" rx="1.8" fill="#ee3549"/>
<text x="625.4" y="78.1" font-size="10.2" fill="#ffffff" stroke="#ffffff" stroke-width="0.22" textLength="39.8" lengthAdjust="spacingAndGlyphs">1.17770</text>
<rect x="617.2" y="122.6" width="52.8" height="14.4" rx="1.8" fill="#ee3549"/>
<text x="625.4" y="133.7" font-size="10.2" fill="#ffffff" stroke="#ffffff" stroke-width="0.22" textLength="39.8" lengthAdjust="spacingAndGlyphs">1.17302</text>
<rect x="617.2" y="189.4" width="52.8" height="14.4" rx="1.8" fill="#ee3549"/>
<text x="625.4" y="200.4" font-size="10.2" fill="#ffffff" stroke="#ffffff" stroke-width="0.22" textLength="39.8" lengthAdjust="spacingAndGlyphs">1.16740</text>
<rect x="617.2" y="257.3" width="52.8" height="14.4" rx="1.8" fill="#0f9983"/>
<text x="625.4" y="268.3" font-size="10.2" fill="#ffffff" stroke="#ffffff" stroke-width="0.22" textLength="39.8" lengthAdjust="spacingAndGlyphs">1.16168</text>
<rect x="617.2" y="301.4" width="52.8" height="14.4" rx="1.8" fill="#0f9983"/>
<text x="625.4" y="312.4" font-size="10.2" fill="#ffffff" stroke="#ffffff" stroke-width="0.22" textLength="39.8" lengthAdjust="spacingAndGlyphs">1.15797</text>
<rect x="617.2" y="343.0" width="52.8" height="14.4" rx="1.8" fill="#0f9983"/>
<text x="625.4" y="354.1" font-size="10.2" fill="#ffffff" stroke="#ffffff" stroke-width="0.22" textLength="39.8" lengthAdjust="spacingAndGlyphs">1.15446</text>
<rect x="617.2" y="228.9" width="52.8" height="14.4" rx="1.8" fill="#0f9983"/>
<text x="625.4" y="240.0" font-size="10.2" fill="#ffffff" stroke="#ffffff" stroke-width="0.22" textLength="39.8" lengthAdjust="spacingAndGlyphs">1.16407</text>
<rect x="617.2" y="388.0" width="39.6" height="14.4" rx="1.8" fill="#9c5bd0"/>
<text x="625.4" y="399.1" font-size="10.2" fill="#ffffff" stroke="#ffffff" stroke-width="0.22" textLength="28" lengthAdjust="spacingAndGlyphs">51.40</text>
<rect x="617.2" y="428.2" width="52.8" height="14.4" rx="1.8" fill="#f57c00"/>
<text x="625.4" y="439.2" font-size="10.2" fill="#ffffff" stroke="#ffffff" stroke-width="0.22" textLength="39.8" lengthAdjust="spacingAndGlyphs">0.00069</text>
<rect x="617.2" y="442.4" width="52.8" height="14.4" rx="1.8" fill="#2196f3"/>
<text x="625.4" y="453.5" font-size="10.2" fill="#ffffff" stroke="#ffffff" stroke-width="0.22" textLength="39.8" lengthAdjust="spacingAndGlyphs">0.00057</text>
<rect x="617.2" y="456.7" width="60" height="15" rx="1.8" fill="#f7525f"/>
<text x="625.4" y="468.1" font-size="10.2" fill="#ffffff" stroke="#ffffff" stroke-width="0.22" textLength="46.5" lengthAdjust="spacingAndGlyphs">−0.00012</text>
<text x="8.1" y="17.8" font-size="10.2" fill="#222328" stroke="#222328" stroke-width="0.22" textLength="87.7" lengthAdjust="spacingAndGlyphs">EUR/USD Spot, 4h</text>
<text x="102.8" y="17.8" font-size="10.2" fill="#222328" stroke="#222328" stroke-width="0.22">O</text>
<text x="110" y="17.8" font-size="10.2" fill="#0f9983" stroke="#0f9983" stroke-width="0.22" textLength="37.7" lengthAdjust="spacingAndGlyphs">1.16326</text>
<text x="154.8" y="17.8" font-size="10.2" fill="#222328" stroke="#222328" stroke-width="0.22">H</text>
<text x="162.7" y="17.8" font-size="10.2" fill="#0f9983" stroke="#0f9983" stroke-width="0.22" textLength="37.7" lengthAdjust="spacingAndGlyphs">1.16472</text>
<text x="205.2" y="17.8" font-size="10.2" fill="#222328" stroke="#222328" stroke-width="0.22">L</text>
<text x="211" y="17.8" font-size="10.2" fill="#0f9983" stroke="#0f9983" stroke-width="0.22" textLength="35.7" lengthAdjust="spacingAndGlyphs">1.16188</text>
<text x="253.2" y="17.8" font-size="10.2" fill="#222328" stroke="#222328" stroke-width="0.22">C</text>
<text x="260.2" y="17.8" font-size="10.2" fill="#0f9983" stroke="#0f9983" stroke-width="0.22" textLength="37.2" lengthAdjust="spacingAndGlyphs">1.16407</text>
<text x="303.8" y="17.8" font-size="10.2" fill="#0f9983" stroke="#0f9983" stroke-width="0.22" textLength="92.2" lengthAdjust="spacingAndGlyphs">+0.00081 (+0.07%)</text>
<text x="8.1" y="389.8" font-size="10.2" fill="#222328" stroke="#222328" stroke-width="0.22" textLength="35.8" lengthAdjust="spacingAndGlyphs">RSI (14)</text>
<text x="52" y="389.8" font-size="10.2" fill="#9c6bd0" stroke="#9c6bd0" stroke-width="0.22" textLength="25.2" lengthAdjust="spacingAndGlyphs">51.40</text>
<text x="7.8" y="438.0" font-size="10.2" fill="#222328" stroke="#222328" stroke-width="0.22" textLength="113.5" lengthAdjust="spacingAndGlyphs">MACD (12, 26, close, 9)</text>
<text x="128" y="438.0" font-size="10.2" fill="#f0606c" stroke="#f0606c" stroke-width="0.22" textLength="44.8" lengthAdjust="spacingAndGlyphs">−0.00012</text>
<text x="179.3" y="438.0" font-size="10.2" fill="#3f98e8" stroke="#3f98e8" stroke-width="0.22" textLength="39.5" lengthAdjust="spacingAndGlyphs">0.00057</text>
<text x="226" y="438.0" font-size="10.2" fill="#f28a30" stroke="#f28a30" stroke-width="0.22" textLength="40.1" lengthAdjust="spacingAndGlyphs">0.00069</text>
<text x="45.9" y="501.4" font-size="10.8" fill="#1c1f2a" stroke="#1c1f2a" stroke-width="0.1" textLength="18" lengthAdjust="spacingAndGlyphs" font-weight="bold">Oct</text>
<text x="122.0" y="501.4" font-size="10.8" fill="#3a3c44" stroke="#3a3c44" stroke-width="0.05" textLength="5.8" lengthAdjust="spacingAndGlyphs">5</text>
<text x="195.4" y="501.4" font-size="10.8" fill="#3a3c44" stroke="#3a3c44" stroke-width="0.05" textLength="6.2" lengthAdjust="spacingAndGlyphs">9</text>
<text x="266.45" y="501.4" font-size="10.8" fill="#3a3c44" stroke="#3a3c44" stroke-width="0.05" textLength="12.1" lengthAdjust="spacingAndGlyphs">14</text>
<text x="336.55" y="501.4" font-size="10.8" fill="#3a3c44" stroke="#3a3c44" stroke-width="0.05" textLength="11.5" lengthAdjust="spacingAndGlyphs">17</text>
<text x="409.40000000000003" y="501.4" font-size="10.8" fill="#3a3c44" stroke="#3a3c44" stroke-width="0.05" textLength="12.4" lengthAdjust="spacingAndGlyphs">22</text>
<text x="478.54999999999995" y="501.4" font-size="10.8" fill="#3a3c44" stroke="#3a3c44" stroke-width="0.05" textLength="12.7" lengthAdjust="spacingAndGlyphs">26</text>
<text x="595.6" y="501.4" font-size="10.8" fill="#1c1f2a" stroke="#1c1f2a" stroke-width="0.1" textLength="19" lengthAdjust="spacingAndGlyphs" font-weight="bold">Nov</text>
<rect x="0.5" y="0.5" width="680" height="508" fill="none" stroke="#ebebeb" stroke-width="1"/>
</svg></body></html>
